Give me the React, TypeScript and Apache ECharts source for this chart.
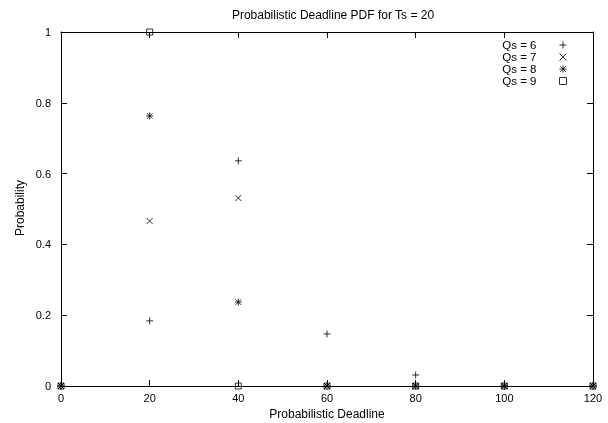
import React, { useEffect, useRef } from "react";
import * as echarts from "echarts";

const deadlines = [0, 20, 40, 60, 80, 100, 120];
const qs6 = [0, 0.184, 0.636, 0.147, 0.031, 0, 0];
const qs7 = [0, 0.466, 0.531, 0, 0, 0, 0];
const qs8 = [0, 0.763, 0.237, 0, 0, 0, 0];
const qs9 = [0, 1.0, 0, 0, 0, 0, 0];
const seriesNames = ["Qs = 6", "Qs = 7", "Qs = 8", "Qs = 9"];

const FONT = "Liberation Sans, Arial, Helvetica, sans-serif";

const symPlus = "path://M0,4L8,4M4,0L4,8";
const symCross = "path://M0,0L8,8M8,0L0,8";
const symStar = "path://M0,4L8,4M4,0L4,8M0.8,0.8L7.2,7.2M7.2,0.8L0.8,7.2";
const symSquare = "path://M0,0L8,0L8,8L0,8Z";
const symbols = [symPlus, symCross, symStar, symSquare];
const sizes = [7, 6, 7, 6];

export default function App() {
  const ref = useRef<HTMLDivElement>(null);
  useEffect(() => {
    if (!ref.current) return;
    const chart = echarts.init(ref.current, undefined, { renderer: "svg" });
    const pairs = (ys: number[]) => deadlines.map((x, i) => [x, ys[i]]);
    const mk = (name: string, ys: number[], symbol: string, size: number) => ({
      name,
      type: "scatter",
      data: pairs(ys),
      symbol,
      symbolSize: size,
      clip: false,
      xAxisIndex: 0,
      yAxisIndex: 0,
      itemStyle: { color: "transparent", borderColor: "#000", borderWidth: 1 },
      emphasis: { disabled: true },
    });
    const axisCommon = {
      axisLine: { show: true, onZero: false, lineStyle: { color: "#000", width: 1 } },
      axisTick: { show: true, inside: true, length: 6, lineStyle: { color: "#000" } },
      splitLine: { show: false },
    };
    chart.setOption({
      animation: false,
      grid: { left: 61, right: 15, top: 32, bottom: 37 },
      title: {
        text: "Probabilistic Deadline PDF for Ts = 20",
        left: 328,
        top: 4,
        textAlign: "center",
        textStyle: { fontFamily: FONT, fontSize: 12, fontWeight: "normal", color: "#000" },
      },
      legend: {
        orient: "vertical",
        right: 36,
        top: 34,
        align: "right",
        itemWidth: 7,
        itemHeight: 7,
        itemGap: 0,
        selectedMode: false,
        itemStyle: { borderWidth: 1, borderColor: "#000", color: "transparent" },
        data: seriesNames.map((n, i) => ({
          name: n,
          icon: symbols[i],
          itemStyle: { borderWidth: 1, borderColor: "#000", color: "transparent" },
        })),
        textStyle: {
          fontFamily: FONT,
          fontSize: 11.5,
          color: "#000",
          lineHeight: 12,
          padding: [0, 18, 0, 0],
        },
      },
      xAxis: [
        {
          type: "value",
          min: 0,
          max: 120,
          interval: 20,
          position: "bottom",
          ...axisCommon,
          axisLabel: { fontFamily: FONT, fontSize: 11, color: "#000", margin: 6 },
        },
        {
          type: "value",
          min: 0,
          max: 120,
          interval: 20,
          position: "top",
          ...axisCommon,
          axisLabel: { show: false },
        },
      ],
      yAxis: [
        {
          type: "value",
          min: 0,
          max: 1,
          interval: 0.2,
          position: "left",
          ...axisCommon,
          axisLabel: { fontFamily: FONT, fontSize: 11, color: "#000", margin: 10 },
        },
        {
          type: "value",
          min: 0,
          max: 1,
          interval: 0.2,
          position: "right",
          ...axisCommon,
          axisLabel: { show: false },
        },
      ],
      graphic: [
        {
          type: "text",
          x: 327,
          y: 414,
          style: {
            text: "Probabilistic Deadline",
            fontFamily: FONT,
            fontSize: 12,
            fill: "#000",
            align: "center",
            verticalAlign: "middle",
          },
        },
        {
          type: "text",
          x: 20,
          y: 208,
          rotation: Math.PI / 2,
          style: {
            text: "Probability",
            fontFamily: FONT,
            fontSize: 12,
            fill: "#000",
            align: "center",
            verticalAlign: "middle",
          },
        },
      ],
      series: [
        mk(seriesNames[0], qs6, symbols[0], sizes[0]),
        mk(seriesNames[1], qs7, symbols[1], sizes[1]),
        mk(seriesNames[2], qs8, symbols[2], sizes[2]),
        mk(seriesNames[3], qs9, symbols[3], sizes[3]),
      ],
    });
    return () => chart.dispose();
  }, []);
  return (
    <div
      ref={ref}
      style={{ position: "fixed", left: 0, top: 0, width: 608, height: 423 }}
    />
  );
}
